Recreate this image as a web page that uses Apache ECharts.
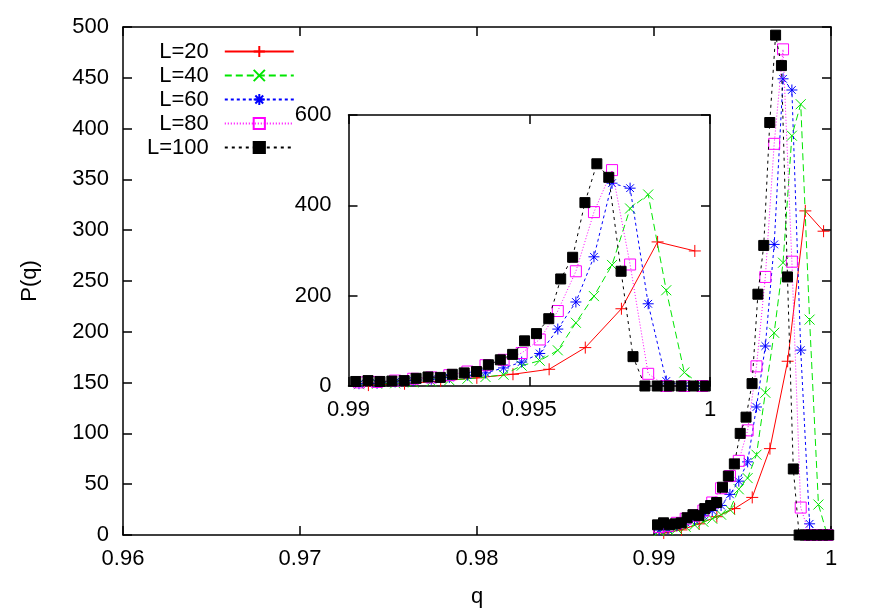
<!DOCTYPE html>
<html>
<head>
<meta charset="utf-8">
<script src="https://cdn.jsdelivr.net/npm/echarts@6/dist/echarts.min.js"></script>
<style>
html,body{margin:0;padding:0;background:#fff;}
#c{width:872px;height:609px;}
</style>
</head>
<body>
<div id="c"></div>
<script>
// ---- data ----
var seriesNames = ['L=20', 'L=40', 'L=60', 'L=80', 'L=100'];

var qL20 = [0.99055, 0.99155, 0.99255, 0.99355, 0.99455, 0.99555, 0.99655, 0.99755, 0.99855, 0.99958];
var pL20 = [2, 5, 11, 18, 26, 37, 85, 171, 319, 299];

var qL40 = [0.99029, 0.99079, 0.99129, 0.99179, 0.99229, 0.99279, 0.99329, 0.99379, 0.99429, 0.99479,
            0.99529, 0.99579, 0.99629, 0.99679, 0.99729, 0.99779, 0.99829, 0.99879, 0.99929, 0.99979];
var pL40 = [4, 5, 6, 8, 10, 13, 16, 20, 25, 45, 56, 79, 140, 199, 268, 393, 424, 212, 30, 0];

var qL60 = [0.99029, 0.99079, 0.99129, 0.99179, 0.99229, 0.99279, 0.99329, 0.99379, 0.99429, 0.99479,
            0.99529, 0.99579, 0.99629, 0.99679, 0.99729, 0.99779, 0.99829, 0.99879, 0.99929, 0.99979];
var pL60 = [5, 6, 9, 12, 15, 19, 24, 29, 40, 53, 72, 126, 186, 286, 449, 438, 182, 11, 0, 0];

var qL80 = [0.99029, 0.99079, 0.99129, 0.99179, 0.99229, 0.99279, 0.99329, 0.99379, 0.99429, 0.99479,
            0.99529, 0.99579, 0.99629, 0.99679, 0.99729, 0.99779, 0.99829, 0.99879, 0.99929, 0.99979];
var pL80 = [8, 9, 12, 16, 19, 24, 32, 46, 58, 73, 103, 166, 254, 385, 478, 269, 27, 0, 0, 0];

var qL100 = [0.9902, 0.99054, 0.99087, 0.9912, 0.99154, 0.99187, 0.9922, 0.99254, 0.99287, 0.9932,
             0.99354, 0.99387, 0.9942, 0.99454, 0.99487, 0.9952, 0.99554, 0.99587, 0.9962, 0.99654,
             0.99687, 0.9972, 0.99754, 0.99787, 0.9982, 0.99854, 0.99887, 0.9992, 0.99954, 0.99987];
var pL100 = [10, 12, 10, 11, 12, 17, 20, 19, 26, 29, 32, 47, 58, 70, 100, 116, 149, 237, 285, 406,
             492, 462, 254, 65, 0, 0, 0, 0, 0, 0];

var mainXTicks = ['0.96', '0.97', '0.98', '0.99', '1'];
var mainYTicks = ['0', '50', '100', '150', '200', '250', '300', '350', '400', '450', '500'];
var insetXTicks = ['0.99', '0.995', '1'];
var insetYTicks = ['0', '200', '400', '600'];

// ---- chart ----
var FONT = 'Liberation Sans, Arial, Helvetica, sans-serif';
function pairs(xs, ys) { return xs.map(function (x, i) { return [x, ys[i]]; }); }

var styles = [
  { color: '#ff0000', type: 'solid', symbol: 'path://M0,5L10,5M5,0L5,10', size: 12, fill: 'rgba(0,0,0,0)' },
  { color: '#00e600', type: [7, 4], symbol: 'path://M0,0L10,10M10,0L0,10', size: 10, fill: 'rgba(0,0,0,0)' },
  { color: '#0000ff', type: [3, 3], symbol: 'path://M5,0L5,10M0,5L10,5M1.5,1.5L8.5,8.5M8.5,1.5L1.5,8.5', size: 11, fill: 'rgba(0,0,0,0)' },
  { color: '#ff00ff', type: [1, 2], symbol: 'rect', size: 11, fill: 'rgba(0,0,0,0)' },
  { color: '#000000', type: [3, 4], symbol: 'rect', size: 10, fill: '#000000' }
];
var qs = [qL20, qL40, qL60, qL80, qL100];
var ps = [pL20, pL40, pL60, pL80, pL100];

var series = [];
[0, 1].forEach(function (g) {
  seriesNames.forEach(function (name, i) {
    var s = styles[i];
    series.push({
      name: name,
      type: 'line',
      xAxisIndex: g === 0 ? 0 : 2,
      yAxisIndex: g === 0 ? 0 : 2,
      data: pairs(qs[i], ps[i]),
      symbol: s.symbol,
      symbolSize: s.size,
      showAllSymbol: true,
      lineStyle: { color: s.color, width: 1, type: s.type },
      itemStyle: { color: s.fill, borderColor: s.color, borderWidth: 1 },
      emphasis: { disabled: true },
      animation: false,
      z: 3 + i
    });
  });
});

function xAx(grid, pos, min, max, interval, labels, show) {
  return {
    type: 'value', gridIndex: grid, position: pos, min: min, max: max, interval: interval,
    axisLine: { show: true, onZero: false, lineStyle: { color: '#000', width: 1.5 } },
    axisTick: { show: true, inside: true, length: 9, lineStyle: { color: '#000', width: 1.5 } },
    splitLine: { show: false },
    axisLabel: {
      show: show, margin: 13, color: '#000', fontSize: 22, fontFamily: FONT,
      formatter: function (v, idx) { return labels[idx]; }
    }
  };
}
function yAx(grid, pos, min, max, interval, labels, show, margin) {
  return {
    type: 'value', gridIndex: grid, position: pos, min: min, max: max, interval: interval,
    axisLine: { show: true, onZero: false, lineStyle: { color: '#000', width: 1.5 } },
    axisTick: { show: true, inside: true, length: 9, lineStyle: { color: '#000', width: 1.5 } },
    splitLine: { show: false },
    axisLabel: {
      show: show, margin: margin, color: '#000', fontSize: 22, fontFamily: FONT,
      formatter: function (v, idx) { return labels[idx]; }
    }
  };
}

var xAxes = [
  xAx(0, 'bottom', 0.96, 1, 0.01, mainXTicks, true),
  xAx(0, 'top', 0.96, 1, 0.01, mainXTicks, false),
  xAx(1, 'bottom', 0.99, 1, 0.005, insetXTicks, true),
  xAx(1, 'top', 0.99, 1, 0.005, insetXTicks, false)
];
xAxes[0].name = 'q';
xAxes[0].nameLocation = 'middle';
xAxes[0].nameGap = 51;
xAxes[0].nameTextStyle = { color: '#000', fontSize: 22, fontFamily: FONT };

var yAxes = [
  yAx(0, 'left', 0, 500, 50, mainYTicks, true, 14),
  yAx(0, 'right', 0, 500, 50, mainYTicks, false, 14),
  yAx(1, 'left', 0, 600, 200, insetYTicks, true, 17),
  yAx(1, 'right', 0, 600, 200, insetYTicks, false, 17)
];
yAxes[0].name = 'P(q)';
yAxes[0].nameLocation = 'middle';
yAxes[0].nameGap = 82;
yAxes[0].nameRotate = 90;
yAxes[0].nameTextStyle = { color: '#000', fontSize: 22, fontFamily: FONT };

var chart = echarts.init(document.getElementById('c'), null, { renderer: 'canvas' });
chart.setOption({
  backgroundColor: '#ffffff',
  animation: false,
  textStyle: { fontFamily: FONT },
  grid: [
    { left: 123, top: 27, width: 708, height: 508, show: false, containLabel: false, outerBoundsMode: 'none' },
    { left: 348.5, top: 115, width: 361.5, height: 271, show: true, backgroundColor: '#ffffff', borderWidth: 0, containLabel: false, outerBoundsMode: 'none' }
  ],
  xAxis: xAxes,
  yAxis: yAxes,
  legend: {
    orient: 'vertical', left: 147, top: 40.5, padding: 0, itemGap: 2,
    itemWidth: 69, itemHeight: 14, align: 'right', selectedMode: false,
    textStyle: { color: '#000', fontSize: 22, fontFamily: FONT, lineHeight: 22, padding: [0, 11, 0, 0] },
    data: seriesNames
  },
  series: series
});
</script>
</body>
</html>
